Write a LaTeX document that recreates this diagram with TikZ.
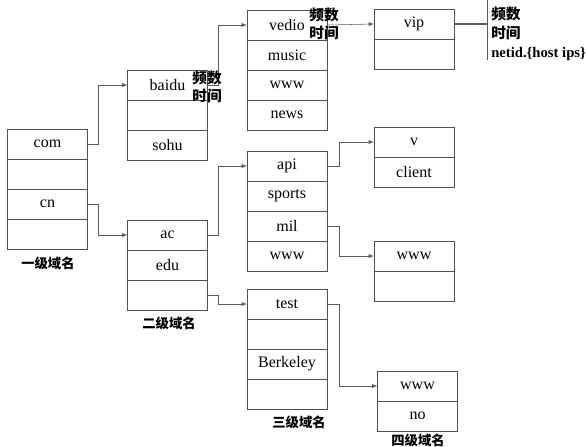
\documentclass[tikz,border=0pt]{standalone}
\usepackage{fontspec}
\setmainfont{Liberation Serif}
\newfontfamily\cjk{Noto Sans CJK SC}
\usetikzlibrary{calc,shapes,arrows,chains,positioning}
\definecolor{boxgray}{RGB}{80,80,80}
\definecolor{linkgray}{RGB}{90,90,90}

\tikzset{
  cell/.style={draw=boxgray,minimum width=60pt,minimum height=22.5pt,inner sep=0pt,outer sep=0pt,font=\rmfamily\fontsize{12}{14}\selectfont},
  link/.style={draw=linkgray,-latex},
  level/.style={font=\cjk\bfseries\fontsize{10}{12}\selectfont},
  note/.style={font=\cjk\bfseries\fontsize{11}{13.5}\selectfont,align=left,inner sep=0pt}
}

\begin{document}
\begin{tikzpicture}[x=0.75pt,y=-0.75pt]
\useasboundingbox (0,0) rectangle (587,447);

% first level
\begin{scope}[shift={(47.5,144)},start chain=going below,node distance=0pt]
\def\tlist{1/com,2/{},3/cn,4/{}}
\foreach \i / \element in \tlist
  \node [cell,on chain] (t\i) {\element};
\end{scope}

% second level
\begin{scope}[shift={(167.5,85)},start chain=going below,node distance=0pt]
\def\slist{1/baidu,2/{},3/sohu}
\foreach \i / \element in \slist
  \node [cell,on chain] (s\i) {\element};
\end{scope}

\begin{scope}[shift={(167.5,235)},start chain=going below,node distance=0pt]
\def\elist{1/ac,2/edu,3/{}}
\foreach \i / \element in \elist
  \node [cell,on chain] (e\i) {\element};
\end{scope}

% third level
\begin{scope}[shift={(287,25)},start chain=going below,node distance=0pt]
\def\vlist{1/vedio,2/music,3/www,4/news}
\foreach \i / \element in \vlist
  \node [cell,on chain] (v\i) {\element};
\end{scope}

\begin{scope}[shift={(287,166)},start chain=going below,node distance=0pt]
\def\alist{1/api,2/sports,3/mil,4/www}
\foreach \i / \element in \alist
  \node [cell,on chain] (a\i) {\element};
\end{scope}

\begin{scope}[shift={(287,304)},start chain=going below,node distance=0pt]
\def\blist{1/test,2/{},3/Berkeley,4/{}}
\foreach \i / \element in \blist
  \node [cell,on chain] (b\i) {\element};
\end{scope}

% fourth level
\begin{scope}[shift={(414,24)},start chain=going below,node distance=0pt]
\def\plist{1/vip,2/{}}
\foreach \i / \element in \plist
  \node [cell,on chain] (p\i) {\element};
\end{scope}

\begin{scope}[shift={(414,142)},start chain=going below,node distance=0pt]
\def\clist{1/v,2/client}
\foreach \i / \element in \clist
  \node [cell,on chain] (c\i) {\element};
\end{scope}

\begin{scope}[shift={(414,256)},start chain=going below,node distance=0pt]
\def\mlist{1/www,2/{}}
\foreach \i / \element in \mlist
  \node [cell,on chain] (m\i) {\element};
\end{scope}

\begin{scope}[shift={(417.5,386)},start chain=going below,node distance=0pt]
\def\nlist{1/www,2/no}
\foreach \i / \element in \nlist
  \node [cell,on chain] (n\i) {\element};
\end{scope}

% level names
\node [level] (l1) at (48,263) {一级域名};
\node [level] (l2) at (169,323) {二级域名};
\node [level] (l3) at (299,422) {三级域名};
\node [level] (l4) at (418,440) {四级域名};

% links
\draw [link] (t1.east) -- ++(11,0) |- (s1.west);
\draw [link] (t3.east) -- ++(11,0) |- (e1.west);
\draw [link] (s1.east) -- ++(11,0) |- (v1.west);
\draw [link] (e1.east) -- ++(11,0) |- (a1.west);
\draw [link] (e3.east) -- ++(11,0) |- (b1.west);
\draw [link] (v1.east) -- (p1.west);
\draw [link] (a1.east) -- ++(12,0) |- (c1.west);
\draw [link] (a3.east) -- ++(12,0) |- (m1.west);
\draw [link] (b1.east) -- ++(12,0) |- (n1.west);

% notes
\node [note] (f1) at (207,87) {频数\\时间};
\node [note] (f2) at (324,24) {频数\\时间};

\coordinate (bartop) at (487,0);
\coordinate (barbot) at (487,60);
\draw [linkgray] (bartop) -- (barbot);
\draw [linkgray,line width=1.5pt] (p1.east) -- (p1.east -| bartop);
\node [note,anchor=north west,font=\cjk\bfseries\fontsize{11}{14}\selectfont] (f3) at (491,7)
  {频数\\时间\\{\rmfamily\bfseries netid.\{host ips\}}};

\end{tikzpicture}
\end{document}
